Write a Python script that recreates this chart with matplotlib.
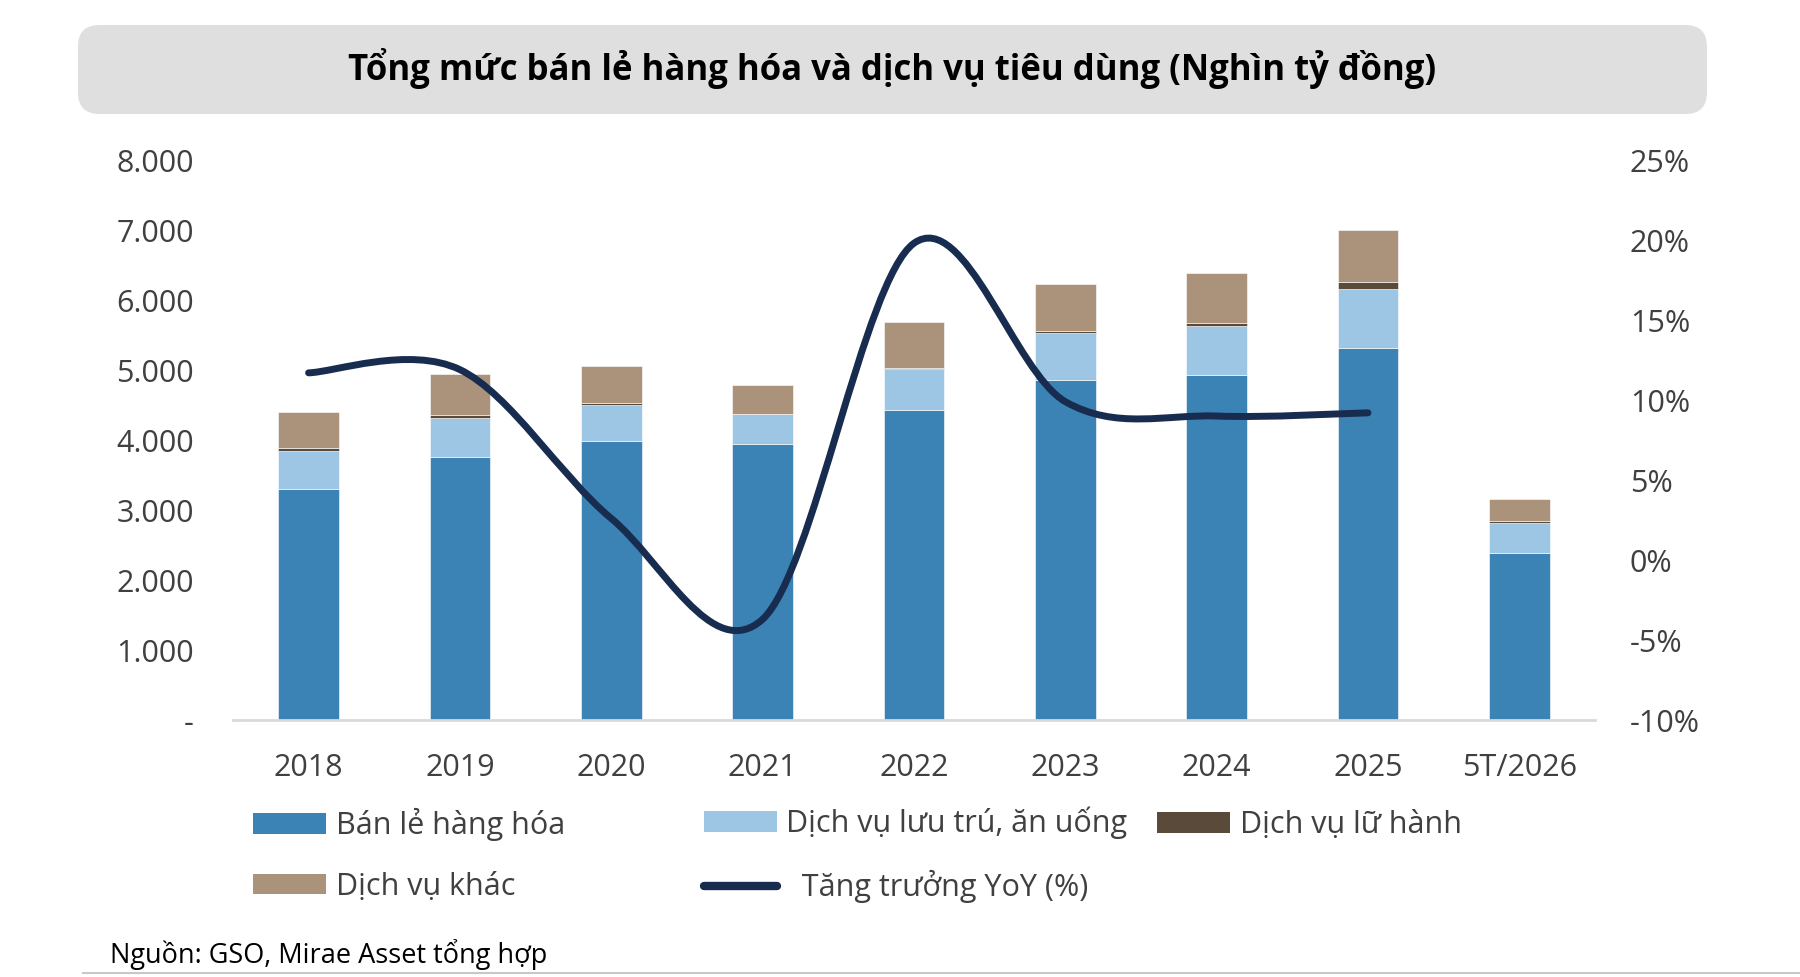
import matplotlib
matplotlib.use("Agg")
import matplotlib.pyplot as plt
from matplotlib.patches import FancyBboxPatch, Patch, PathPatch
from matplotlib.lines import Line2D
from matplotlib.path import Path
import numpy as np

plt.rcParams['font.family'] = ['Open Sans', 'DejaVu Sans']

categories = ["2018", "2019", "2020", "2021", "2022", "2023", "2024", "2025", "5T/2026"]
ban_le = [3307, 3751, 3983, 3938, 4434, 4856, 4922, 5310, 2390]
luu_tru = [540, 565, 523, 427, 574, 673, 708, 850, 430]
lu_hanh = [40, 44, 16, 9, 25, 35, 47, 95, 30]
khac = [508, 580, 537, 415, 647, 667, 713, 745, 310]
yoy = [11.7, 11.9, 2.6, -3.7, 19.8, 9.9, 9.0, 9.2]

y_ticks = [0, 1000, 2000, 3000, 4000, 5000, 6000, 7000, 8000]
y_ticklabels = ["-", "1.000", "2.000", "3.000", "4.000", "5.000", "6.000", "7.000", "8.000"]
y2_ticks = [-10, -5, 0, 5, 10, 15, 20, 25]
y2_ticklabels = ["-10%", "-5%", "0%", "5%", "10%", "15%", "20%", "25%"]

labels = ["Bán lẻ hàng hóa", "Dịch vụ lưu trú, ăn uống", "Dịch vụ lữ hành", "Dịch vụ khác", "  Tăng trưởng YoY (%)"]
colors = ["#3b83b5", "#9cc6e4", "#5a4a3a", "#aa937a"]
line_color = "#172c4e"
text_color = "#404040"
fs = 22

fig = plt.figure(figsize=(18, 9.77), dpi=100)

# Title box
box = FancyBboxPatch((0.0433, 0.8833), 0.905, 0.0911, boxstyle="round,pad=0,rounding_size=0.012",
                     transform=fig.transFigure, facecolor="#dfdfdf", edgecolor="none",
                     mutation_aspect=1.84)
fig.patches.append(box)
fig.text(0.4958, 0.9294, "Tổng mức bán lẻ hàng hóa và dịch vụ tiêu dùng (Nghìn tỷ đồng)",
         ha="center", va="center", fontsize=25, fontweight="bold", color="black")

ax = fig.add_axes([0.1294, 0.2630, 0.7567, 0.5732])
x = np.arange(len(categories))
w = 0.40
bottom = np.zeros(len(categories))
series = [ban_le, luu_tru, lu_hanh, khac]
for vals, c in zip(series, colors):
    ax.bar(x, vals, w, bottom=bottom, color=c, edgecolor="white", linewidth=0.4, zorder=2)
    bottom = bottom + np.array(vals)

ax.set_xlim(-0.5, len(categories) - 0.5)
ax.set_ylim(0, 8000)
ax.set_yticks(y_ticks)
ax.set_yticklabels(y_ticklabels)
ax.set_xticks(x)
ax.set_xticklabels(categories)
for s in ["top", "right", "left"]:
    ax.spines[s].set_visible(False)
ax.spines["bottom"].set_color("#d9d9d9")
ax.spines["bottom"].set_linewidth(2)
ax.tick_params(axis="both", length=0, labelsize=fs, colors=text_color)
ax.tick_params(axis="y", pad=28)
ax.tick_params(axis="x", pad=24)

ax2 = ax.twinx()
ax2.set_ylim(-10, 25)
ax2.set_yticks(y2_ticks)
ax2.set_yticklabels(y2_ticklabels)
for s in ax2.spines.values():
    s.set_visible(False)
ax2.tick_params(axis="y", length=0, labelsize=fs, colors=text_color, pad=25)

# smooth line (Catmull-Rom as cubic Bezier)
px = np.arange(len(yoy), dtype=float)
py = np.array(yoy, dtype=float)
verts = [(px[0], py[0])]
codes = [Path.MOVETO]
n = len(px)
for i in range(n - 1):
    p0 = (px[max(i - 1, 0)], py[max(i - 1, 0)])
    p1 = (px[i], py[i])
    p2 = (px[i + 1], py[i + 1])
    p3 = (px[min(i + 2, n - 1)], py[min(i + 2, n - 1)])
    c1 = (p1[0] + (p2[0] - p0[0]) / 6, p1[1] + (p2[1] - p0[1]) / 6)
    c2 = (p2[0] - (p3[0] - p1[0]) / 6, p2[1] - (p3[1] - p1[1]) / 6)
    verts += [c1, c2, p2]
    codes += [Path.CURVE4, Path.CURVE4, Path.CURVE4]
path = Path(verts, codes)
ax2.add_patch(PathPatch(path, facecolor="none", edgecolor=line_color, linewidth=5,
                        capstyle="round", joinstyle="round", zorder=3))

# legends
h_bl = Patch(facecolor=colors[0])
h_lt = Patch(facecolor=colors[1])
h_lh = Patch(facecolor=colors[2])
h_kh = Patch(facecolor=colors[3])
h_yoy = Line2D([0], [0], color=line_color, linewidth=6, solid_capstyle="round")
common = dict(frameon=False, fontsize=fs, borderpad=0, borderaxespad=0, handlelength=2.4,
              handleheight=0.65, handletextpad=0.3, labelspacing=1.0, labelcolor=text_color)
fig.legend([h_bl, h_kh], [labels[0], labels[3]], loc="center left",
           bbox_to_anchor=(0.1406, 0.1250), **common)
fig.legend([h_lt, h_yoy], [labels[1], labels[4]], loc="center left",
           bbox_to_anchor=(0.3911, 0.1250), **common)
fig.legend([h_lh], [labels[2]], loc="center left",
           bbox_to_anchor=(0.6428, 0.1555), **common)

fig.text(0.0611, 0.0235, "Nguồn: GSO, Mirae Asset tổng hợp", ha="left", va="center",
         fontsize=19.5, color="black")
fig.add_artist(Line2D([0.046, 1.0], [0.0041, 0.0041], transform=fig.transFigure,
                      color="#c8c8c8", linewidth=1.5))

fig.savefig("out.png", dpi=100)
